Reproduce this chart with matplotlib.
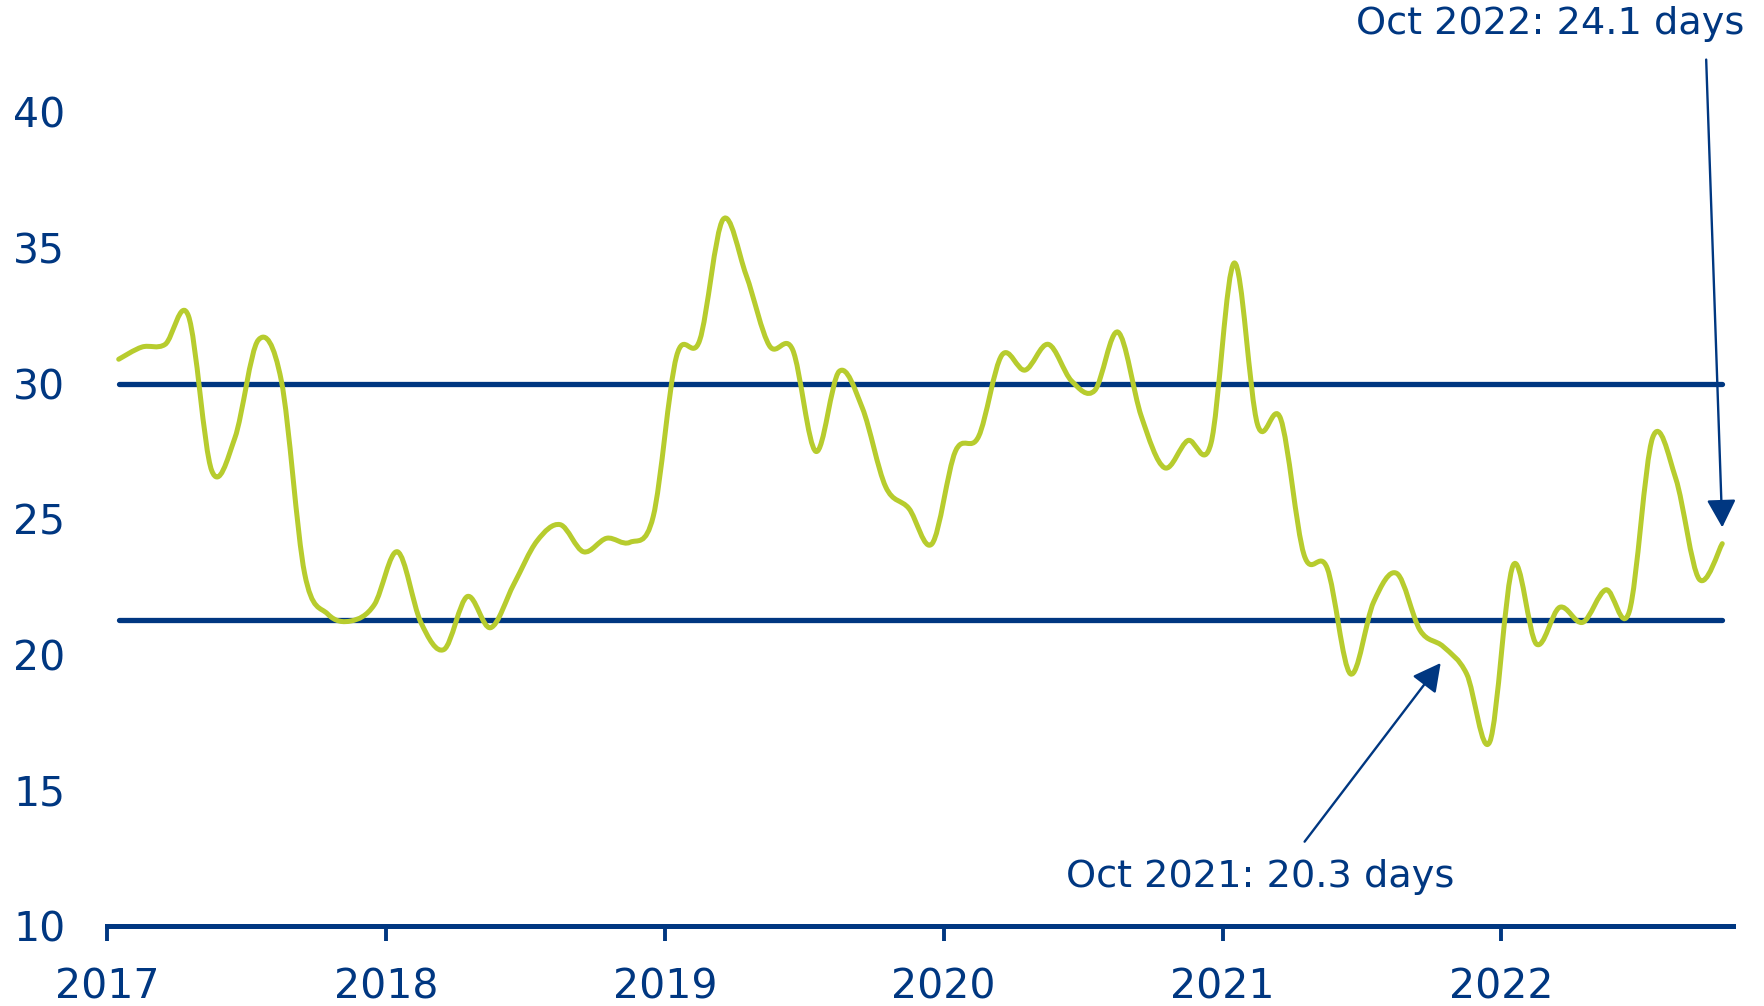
import numpy as np
import matplotlib
matplotlib.use("Agg")
import matplotlib.pyplot as plt
from matplotlib.path import Path
from matplotlib.patches import PathPatch

# ---- data (monthly, Jan 2017 .. Oct 2022) ----
start_year = 2017
values_2017 = [30.9, 31.35, 31.45, 32.5, 26.8, 28.0, 31.6, 30.1, 23.0, 21.5, 21.25, 21.85]
values_2018 = [23.8, 21.2, 20.2, 22.15, 21.0, 22.6, 24.2, 24.8, 23.8, 24.3, 24.15, 25.1]
values_2019 = [31.0, 31.6, 36.05, 34.0, 31.4, 31.25, 27.5, 30.45, 29.1, 26.2, 25.4, 24.1]
values_2020 = [27.5, 28.05, 31.05, 30.5, 31.45, 30.1, 29.75, 31.9, 28.8, 26.9, 27.9, 27.8]
values_2021 = [34.45, 28.5, 28.7, 23.7, 23.2, 19.3, 21.95, 23.0, 20.9, 20.3, 19.3, 16.8]
values_2022 = [23.3, 20.4, 21.75, 21.2, 22.4, 21.6, 28.0, 26.5, 22.8, 24.1]
upper_band = 30.0
lower_band = 21.3
year_ticks = [2017, 2018, 2019, 2020, 2021, 2022]
y_ticks = [10, 15, 20, 25, 30, 35, 40]
label_2022 = "Oct 2022: 24.1 days"
label_2021 = "Oct 2021: 20.3 days"

values = np.array(values_2017 + values_2018 + values_2019 + values_2020 + values_2021 + values_2022)
months = start_year + (np.arange(len(values)) + 0.5) / 12.0

NAVY = "#003781"
GREEN = "#B7CC2E"
plt.rcParams["font.family"] = ["DejaVu Sans"]

fig = plt.figure(figsize=(17.64, 10.06), dpi=100)
ax = fig.add_axes([0.0607, 0.0795, 0.9217, 0.8087])
ax.set_xlim(2017, 2022.83)
ax.set_ylim(10, 40)

# smooth (Excel-like) curve built from Bezier segments through the data points
pts = np.column_stack([months, values])
verts = [tuple(pts[0])]
codes = [Path.MOVETO]
n = len(pts)
for i in range(n - 1):
    p0 = pts[i - 1] if i > 0 else pts[i]
    p1 = pts[i]
    p2 = pts[i + 1]
    p3 = pts[i + 2] if i + 2 < n else pts[i + 1]
    c1 = p1 + (p2 - p0) / 6.0
    c2 = p2 - (p3 - p1) / 6.0
    verts += [tuple(c1), tuple(c2), tuple(p2)]
    codes += [Path.CURVE4] * 3
patch = PathPatch(Path(verts, codes), facecolor="none", edgecolor=GREEN, lw=3.6,
                  capstyle="round", joinstyle="round", zorder=3)
ax.add_patch(patch)

ax.plot([months[0], months[-1]], [upper_band, upper_band], color=NAVY, lw=3.8,
        solid_capstyle="round", zorder=2)
ax.plot([months[0], months[-1]], [lower_band, lower_band], color=NAVY, lw=3.8,
        solid_capstyle="round", zorder=2)

for s in ["top", "right", "left"]:
    ax.spines[s].set_visible(False)
ax.spines["bottom"].set_color(NAVY)
ax.spines["bottom"].set_linewidth(3.6)

ax.set_xticks(year_ticks)
ax.set_xticklabels([str(y) for y in year_ticks])
ax.set_yticks(y_ticks)
ax.tick_params(axis="x", colors=NAVY, labelsize=29.5, length=11, width=2.8, pad=19, direction="out")
ax.tick_params(axis="y", colors=NAVY, labelsize=29.5, length=0, pad=30)

arrow_style = "-|>,head_length=0.95,head_width=0.5"
# Oct 2022 annotation
ax.annotate("", xy=(months[-1], 24.7), xytext=(2022.734, 41.95), annotation_clip=False,
            arrowprops=dict(arrowstyle=arrow_style, color=NAVY, lw=1.7, shrinkA=0, shrinkB=0,
                            mutation_scale=18))
ax.text(2022.87, 43.25, label_2022, ha="right", va="center", color=NAVY, fontsize=27.5,
        clip_on=False)
# Oct 2021 annotation
ax.annotate("", xy=(2021.782, 19.7), xytext=(2021.294, 13.11),
            arrowprops=dict(arrowstyle=arrow_style, color=NAVY, lw=1.7, shrinkA=0, shrinkB=0,
                            mutation_scale=18))
ax.text(2021.135, 11.8, label_2021, ha="center", va="center", color=NAVY, fontsize=27.5)

fig.savefig("out.png", dpi=100)
